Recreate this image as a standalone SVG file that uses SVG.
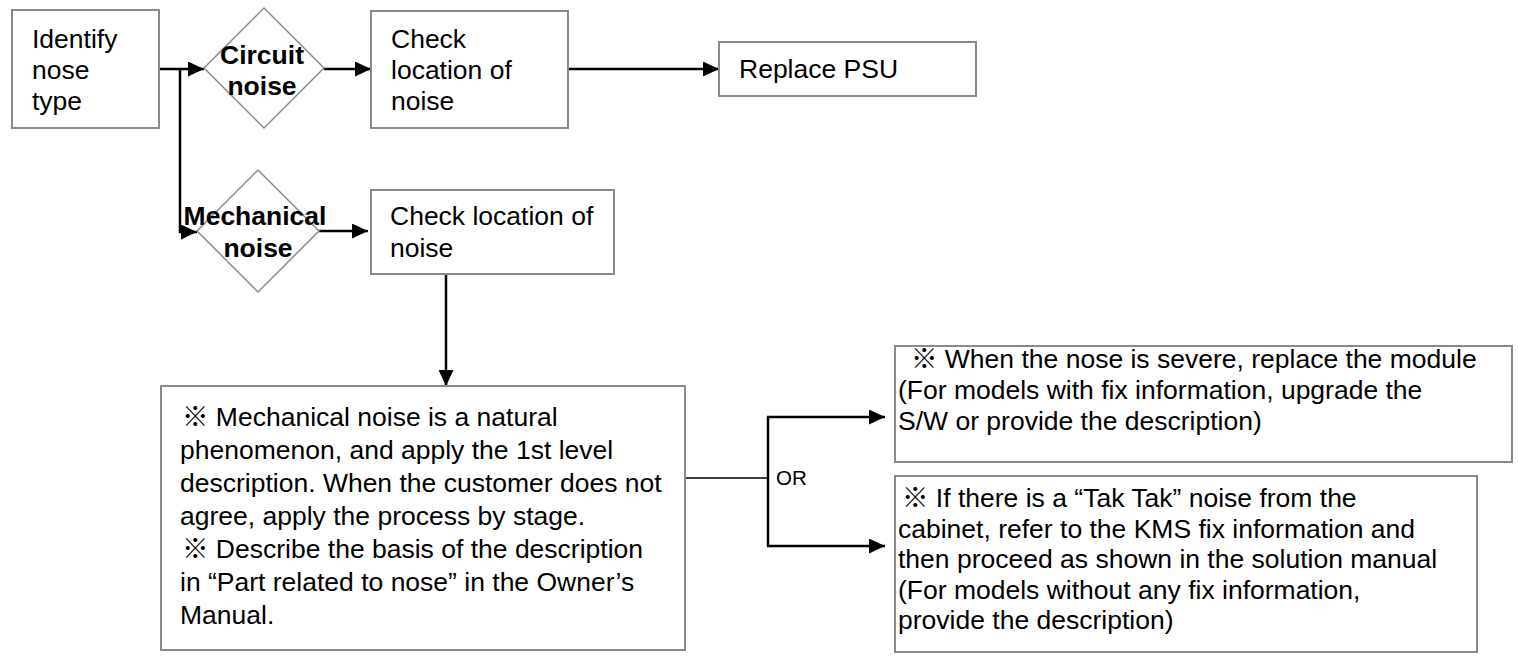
<svg xmlns="http://www.w3.org/2000/svg" width="1518" height="664" viewBox="0 0 1518 664">
<style>
.box{fill:#fff;stroke:#8a8a8a;stroke-width:2}
.dia{fill:#fff;stroke:#8a8a8a;stroke-width:1.5}
.t{font-family:"Liberation Sans",Arial,"Noto Sans CJK KR",sans-serif;font-size:26.5px;fill:#000}
.b{font-weight:bold}
.c{fill:none;stroke:#000;stroke-width:2.5}
.thin{fill:none;stroke:#000;stroke-width:1.5}
.or{font-family:"Liberation Sans",Arial,sans-serif;font-size:20.5px;fill:#000}
</style>
<defs>
<marker id="ah" markerUnits="userSpaceOnUse" markerWidth="16" markerHeight="15" refX="16" refY="7.5" orient="auto">
<path d="M0,0 L16,7.5 L0,15 Z" fill="#000"/>
</marker>
</defs>
<rect width="1518" height="664" fill="#fff"/>
<g id="connectors">
<path class="c" d="M159,69 L204,69" marker-end="url(#ah)"/>
<path class="c" d="M180,69 L180,232 L197,232" marker-end="url(#ah)"/>
<path class="c" d="M324,69 L371,69" marker-end="url(#ah)"/>
<path class="c" d="M568,69 L719,69" marker-end="url(#ah)"/>
<path class="c" d="M319,231 L368,231" marker-end="url(#ah)"/>
<path class="c" d="M446,274 L446,386" marker-end="url(#ah)"/>
<path class="thin" d="M685,478 L768,478"/>
<path class="c" d="M768,417 L768,546"/>
<path class="c" d="M767,417 L885,417" marker-end="url(#ah)"/>
<path class="c" d="M767,546 L885,546" marker-end="url(#ah)"/>
<text class="or" x="776" y="485">OR</text>
</g>
<g id="identify">
<rect class="box" x="12" y="10" width="147" height="118"/>
<text class="t" x="32" y="48">Identify</text>
<text class="t" x="32" y="79">nose</text>
<text class="t" x="32" y="110">type</text>
</g>
<g id="circuit">
<polygon class="dia" points="264,8 324,68 264,128 204,68"/>
<text class="t b" x="262" y="64" text-anchor="middle">Circuit</text>
<text class="t b" x="262" y="95" text-anchor="middle">noise</text>
</g>
<g id="check1">
<rect class="box" x="371" y="11" width="197" height="117"/>
<text class="t" x="391" y="48">Check</text>
<text class="t" x="391" y="79">location of</text>
<text class="t" x="391" y="110">noise</text>
</g>
<g id="replace">
<rect class="box" x="719" y="42" width="257" height="54"/>
<text class="t" x="739" y="78">Replace PSU</text>
</g>
<g id="mechanical">
<polygon class="dia" points="258,170 319,231 258,292 197,231"/>
<text class="t b" x="255" y="225" text-anchor="middle">Mechanical</text>
<text class="t b" x="258" y="257" text-anchor="middle">noise</text>
</g>
<g id="check2">
<rect class="box" x="371" y="190" width="243" height="84"/>
<text class="t" x="390" y="225">Check location of</text>
<text class="t" x="390" y="257">noise</text>
</g>
<g id="mechnote">
<rect class="box" x="161" y="386" width="524" height="264"/>
<text class="t" x="182" y="426">※ Mechanical noise is a natural</text>
<text class="t" x="180" y="459">phenomenon, and apply the 1st level</text>
<text class="t" x="180" y="492">description. When the customer does not</text>
<text class="t" x="180" y="525">agree, apply the process by stage.</text>
<text class="t" x="182" y="558">※ Describe the basis of the description</text>
<text class="t" x="180" y="591">in “Part related to nose” in the Owner’s</text>
<text class="t" x="180" y="624">Manual.</text>
</g>
<g id="severe">
<rect class="box" x="895" y="346" width="617" height="116"/>
<text class="t" x="911" y="368">※ When the nose is severe, replace the module</text>
<text class="t" x="898" y="399">(For models with fix information, upgrade the</text>
<text class="t" x="898" y="430">S/W or provide the description)</text>
</g>
<g id="taktak">
<rect class="box" x="895" y="476" width="582" height="176"/>
<text class="t" x="902" y="507">※ If there is a “Tak Tak” noise from the</text>
<text class="t" x="898" y="537.5">cabinet, refer to the KMS fix information and</text>
<text class="t" x="898" y="568">then proceed as shown in the solution manual</text>
<text class="t" x="898" y="598.5">(For models without any fix information,</text>
<text class="t" x="898" y="629">provide the description)</text>
</g>
</svg>
